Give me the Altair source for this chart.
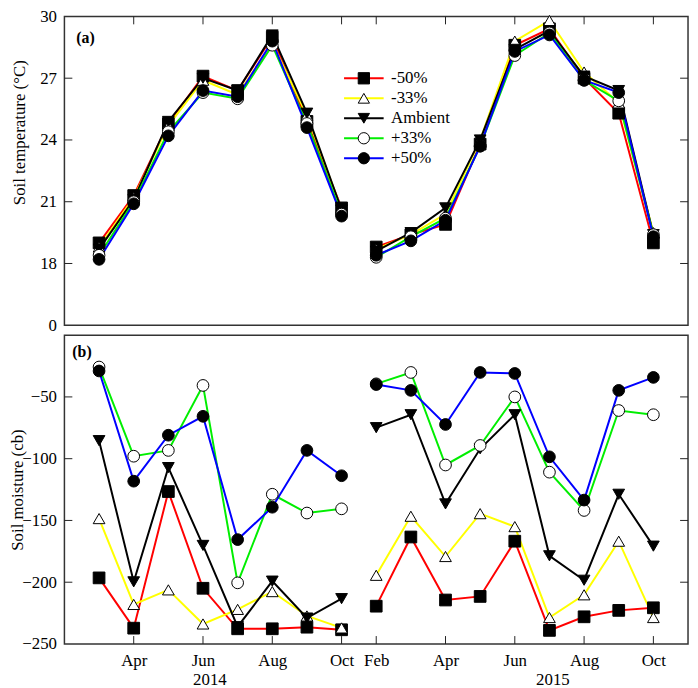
import altair as alt
import pandas as pd

# ---------------- data ----------------
series = ["-50%", "-33%", "Ambient", "+33%", "+50%"]
marker_codes = ["m1", "m2", "m3", "m4", "m5"]
line_colors = ["#ff0000", "#ffff00", "#000000", "#00ee00", "#0000ff"]
marker_shapes = ["square", "triangle-up", "triangle-down", "circle", "circle"]
marker_fills = ["#000000", "#ffffff", "#000000", "#ffffff", "#000000"]
marker_strokes = ["#000000", "#000000", "#000000", "#000000", "#000000"]

months_2014 = [3, 4, 5, 6, 7, 8, 9, 10]          # Mar..Oct
months_2015 = [2, 3, 4, 5, 6, 7, 8, 9, 10]       # Feb..Oct
month_names = ["Jan", "Feb", "Mar", "Apr", "May", "Jun", "Jul", "Aug", "Sep", "Oct", "Nov", "Dec"]
tick_months_2014 = [4, 6, 8, 10]
tick_months_2015 = [2, 4, 6, 8, 10]

# Soil temperature (°C)
temp14_m50 = [19.0, 21.3, 24.8, 27.1, 26.4, 29.0, 24.9, 20.7]
temp14_m33 = [18.8, 21.2, 24.7, 26.9, 26.2, 28.7, 25.2, 20.6]
temp14_amb = [18.7, 21.1, 24.9, 27.0, 26.4, 29.1, 25.3, 20.6]
temp14_p33 = [18.4, 21.0, 24.4, 26.3, 26.0, 28.6, 24.8, 20.4]
temp14_p50 = [18.2, 20.9, 24.2, 26.4, 26.1, 28.8, 24.6, 20.3]

temp15_m50 = [18.8, 19.4, 19.9, 23.8, 28.6, 29.4, 27.0, 25.3, 19.0]
temp15_m33 = [18.7, 19.4, 20.4, 24.0, 28.8, 29.8, 27.3, 25.8, 19.5]
temp15_amb = [18.6, 19.5, 20.7, 24.0, 28.4, 29.3, 27.1, 26.4, 19.4]
temp15_p33 = [18.3, 19.3, 20.2, 23.7, 28.1, 29.2, 26.9, 25.9, 19.4]
temp15_p50 = [18.4, 19.1, 20.1, 23.7, 28.3, 29.1, 26.9, 26.3, 19.3]

# Soil moisture (cb)
moist14_m50 = [-196.5, -237.2, -126.6, -204.9, -237.7, -237.7, -236.4, -238.5]
moist14_m33 = [-148.5, -218.0, -206.2, -233.8, -222.0, -207.6, -227.3, -237.0]
moist14_amb = [-85.4, -199.7, -107.2, -170.2, -236.0, -199.1, -229.0, -213.3]
moist14_p33 = [-25.8, -98.0, -93.3, -40.7, -200.5, -128.8, -144.0, -140.6]
moist14_p50 = [-29.0, -118.2, -81.0, -65.7, -165.5, -139.3, -93.3, -113.8]

moist15_m50 = [-219.4, -163.4, -214.4, -211.5, -166.8, -239.0, -228.0, -222.8, -220.7]
moist15_m33 = [-194.4, -146.6, -179.2, -144.5, -155.0, -228.6, -210.2, -166.8, -228.6]
moist15_amb = [-74.9, -64.4, -136.6, -92.0, -64.4, -178.6, -198.4, -128.8, -170.8]
moist15_p33 = [-39.4, -30.2, -105.1, -89.3, -50.0, -110.9, -141.9, -61.0, -64.4]
moist15_p50 = [-40.0, -44.7, -72.3, -30.2, -31.0, -98.5, -133.5, -44.7, -34.2]

panel_labels = ["(a)", "(b)"]
y_title_a = "Soil temperature (°C)"
y_title_b = "Soil moisture (cb)"
year_labels = ["2014", "2015"]
year_label_pos = [6.2, 16.1]
temp_ticks = [15, 18, 21, 24, 27, 30]      # 15 is drawn as the broken-axis "0"
moist_ticks = [-250, -200, -150, -100, -50]

# ---------------- build table ----------------
OFFSET_2015 = 9  # axis break: Feb 2015 follows Oct 2014 by one slot

temp14 = [temp14_m50, temp14_m33, temp14_amb, temp14_p33, temp14_p50]
temp15 = [temp15_m50, temp15_m33, temp15_amb, temp15_p33, temp15_p50]
moist14 = [moist14_m50, moist14_m33, moist14_amb, moist14_p33, moist14_p50]
moist15 = [moist15_m50, moist15_m33, moist15_amb, moist15_p33, moist15_p50]

rows = []
for si, s in enumerate(series):
    for mi, m in enumerate(months_2014):
        rows.append(dict(series=s, marker=marker_codes[si], year="2014", x=m,
                         temp=temp14[si][mi], moist=moist14[si][mi]))
    for mi, m in enumerate(months_2015):
        rows.append(dict(series=s, marker=marker_codes[si], year="2015", x=m + OFFSET_2015,
                         temp=temp15[si][mi], moist=moist15[si][mi]))
df = pd.DataFrame(rows)

x_ticks = tick_months_2014 + [m + OFFSET_2015 for m in tick_months_2015]
label_arr = [""] * 21
for m in tick_months_2014:
    label_arr[m] = month_names[m - 1]
for m in tick_months_2015:
    label_arr[m + OFFSET_2015] = month_names[m - 1]
label_expr = "[" + ",".join("'%s'" % l for l in label_arr) + "][datum.value]"

year_df = pd.DataFrame({"year": year_labels, "x": year_label_pos})
xtick_df = pd.DataFrame({"x": x_ticks})
ytick_a = pd.DataFrame({"temp": temp_ticks[1:-1]})
ytick_b = pd.DataFrame({"moist": moist_ticks[1:]})

# ---------------- styling ----------------
FONT = "Liberation Serif"
FS = 17
W, H = 630, 312
TL = 8  # inward tick length

x_scale = alt.Scale(domain=[2, 20], nice=False, zero=False)
ya_scale = alt.Scale(domain=[15, 30], nice=False, zero=False)
yb_scale = alt.Scale(domain=[-250, 0], nice=False, zero=False)
color_scale = alt.Scale(domain=series, range=line_colors)
shape_scale = alt.Scale(domain=marker_codes, range=marker_shapes)
fill_scale = alt.Scale(domain=marker_codes, range=marker_fills)
stroke_scale = alt.Scale(domain=marker_codes, range=marker_strokes)

LEG_X, LEG_Y, ROWPAD = 294, 54, 2.2
line_legend = alt.Legend(orient="none", legendX=LEG_X, legendY=LEG_Y, title=None,
                         symbolType="M-4,0H4", symbolSize=100, symbolStrokeWidth=2,
                         labelFont=FONT, labelFontSize=FS, labelColor="black",
                         labelOffset=19, rowPadding=ROWPAD, padding=0)
marker_legend = alt.Legend(orient="none", legendX=LEG_X, legendY=LEG_Y, title=None,
                           symbolSize=130, symbolStrokeWidth=1,
                           symbolOpacity=1, labelExpr="''", labelFont=FONT,
                           labelFontSize=FS, labelOffset=19, rowPadding=ROWPAD,
                           padding=0, zindex=2)


def y_axis(values, title, title_x, title_y, expr=None):
    kw = dict(values=values, title=title, ticks=False, domain=False, grid=False,
              labelFont=FONT, labelFontSize=FS, labelColor="black", labelPadding=8,
              labelOverlap=False, titleFont=FONT, titleFontSize=FS,
              titleFontWeight="normal", titleColor="black", titleX=title_x)
    if title_y is not None:
        kw["titleY"] = title_y
    if expr:
        kw["labelExpr"] = expr
    return alt.Axis(**kw)


def panel(var, yscale, yaxis, xaxis, legends, ytick_df, label, label_x, label_y, bottom):
    base = alt.Chart(df)
    xenc = alt.X("x:Q", scale=x_scale, axis=xaxis)
    yenc = alt.Y(f"{var}:Q", scale=yscale, axis=yaxis)
    lines = base.mark_line(strokeWidth=2).encode(
        x=xenc, y=yenc,
        color=alt.Color("series:N", scale=color_scale,
                        legend=line_legend if legends else None),
        detail="year:N",
    )
    mleg = marker_legend if legends else None
    points = base.mark_point(filled=True, size=140, strokeWidth=1, opacity=1).encode(
        x=xenc, y=yenc,
        shape=alt.Shape("marker:N", scale=shape_scale, legend=mleg),
        fill=alt.Fill("marker:N", scale=fill_scale, legend=mleg),
        stroke=alt.Stroke("marker:N", scale=stroke_scale, legend=mleg),
    )
    lticks = alt.Chart(ytick_df).mark_rule(color="#222", strokeWidth=1).encode(
        y=yenc, x=alt.value(0), x2=alt.value(TL))
    rticks = alt.Chart(ytick_df).mark_rule(color="#222", strokeWidth=1).encode(
        y=yenc, x=alt.value(W - TL), x2=alt.value(W))
    if bottom:
        xticks = alt.Chart(xtick_df).mark_rule(color="#222", strokeWidth=1).encode(
            x=xenc, y=alt.value(H - TL), y2=alt.value(H))
    else:
        xticks = alt.Chart(xtick_df).mark_rule(color="#222", strokeWidth=1).encode(
            x=xenc, y=alt.value(0), y2=alt.value(TL))
    txt = alt.Chart(pd.DataFrame({"t": [label]})).mark_text(
        font=FONT, fontSize=16, fontWeight="bold", align="left", baseline="middle",
        color="black").encode(text="t:N", x=alt.value(label_x), y=alt.value(label_y))
    layers = [lines, points, lticks, rticks, xticks, txt]
    if bottom:
        yr = alt.Chart(year_df).mark_text(font=FONT, fontSize=FS, baseline="middle",
                                          align="center", color="black").encode(
            x=xenc, y=alt.value(H + 36), text="year:N")
        layers.append(yr)
    return alt.layer(*layers).properties(width=W, height=H)


top = panel("temp", ya_scale,
            y_axis(temp_ticks, y_title_a, -36, 117,
                   "datum.value == 15 ? '0' : datum.label"),
            None, True, ytick_a, panel_labels[0], 12, 22, False)

bottom_xaxis = alt.Axis(values=x_ticks, labelExpr=label_expr, title=None, ticks=False,
                        domain=False, grid=False, labelFont=FONT, labelFontSize=FS,
                        labelColor="black", labelPadding=9, labelOverlap=False)
bot = panel("moist", yb_scale,
            y_axis(moist_ticks, y_title_b, -38, None),
            bottom_xaxis, False, ytick_b, panel_labels[1], 8, 17, True)

chart = alt.vconcat(top, bot, spacing=0).resolve_scale(
    x="independent", y="independent", color="independent",
    fill="independent", shape="independent", stroke="independent"
).resolve_legend(
    color="independent", fill="independent", shape="independent", stroke="independent"
).properties(
    padding={"left": 0, "top": -5, "right": 0, "bottom": 0},
    background="white",
).configure_view(stroke="#333", strokeWidth=1.5)

chart.save("out.html", embed_options={"renderer": "svg", "actions": False})
